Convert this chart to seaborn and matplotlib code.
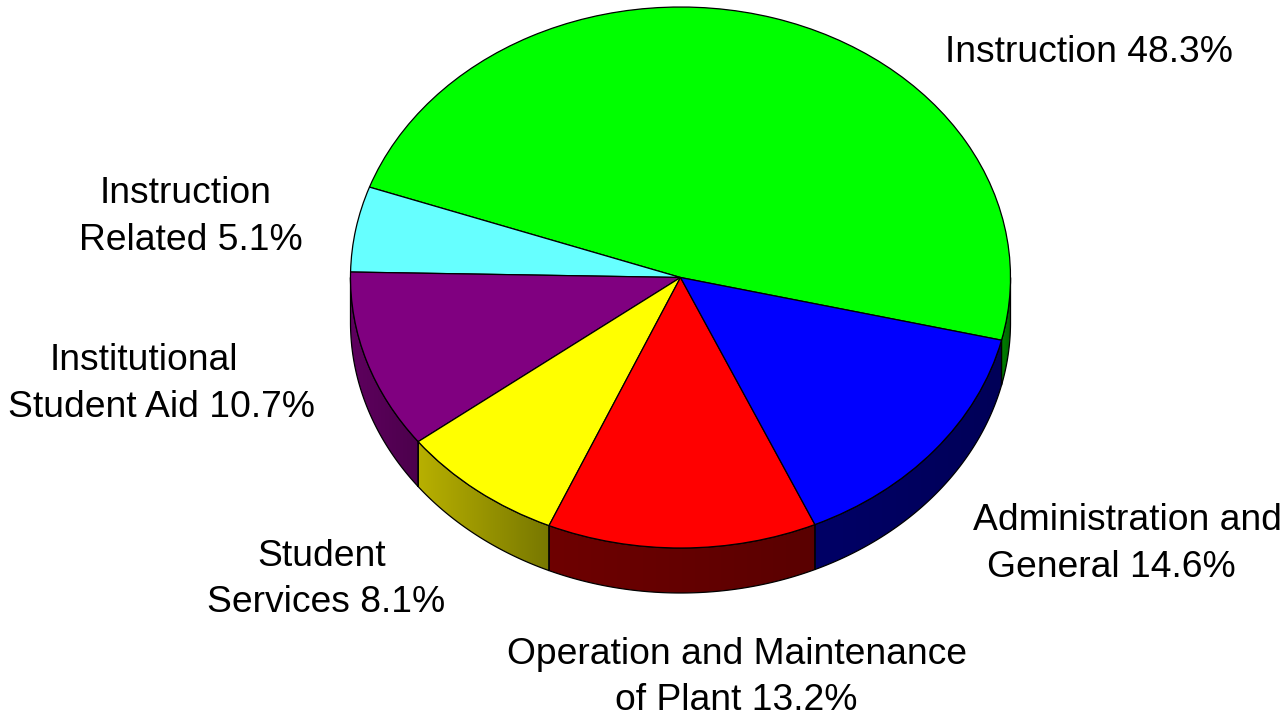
import numpy as np
import matplotlib
matplotlib.use("Agg")
import matplotlib.pyplot as plt
import matplotlib.transforms as mtransforms
from matplotlib.patches import Polygon
from matplotlib.colors import LinearSegmentedColormap
import seaborn as sns

# data
categories = ["Instruction", "Instruction Related", "Institutional Student Aid",
              "Student Services", "Operation and Maintenance of Plant",
              "Administration and General"]
shares = [48.3, 5.1, 10.7, 8.1, 13.2, 14.6]
label_lines = [["Instruction 48.3%"],
               ["Instruction", "Related 5.1%"],
               ["Institutional", "Student Aid 10.7%"],
               ["Student", "Services 8.1%"],
               ["Operation and Maintenance", "of Plant 13.2%"],
               ["Administration and", "General 14.6%"]]

# style
top_colors = ["#00ff00", "#66ffff", "#800080", "#ffff00", "#ff0000", "#0000ff"]
side_colors = [("#008000", "#006400"), ("#339999", "#2a8080"),
               ("#5e005e", "#4c004c"), ("#b8b000", "#787800"),
               ("#6e0000", "#5a0000"), ("#000066", "#000058")]
# per-line left x / cap-top y (pixels)
label_pos = [[(945, 35)],
             [(100, 176), (79, 223)],
             [(50, 343), (8, 390)],
             [(257, 539), (207, 585)],
             [(507, 637), (615, 683)],
             [(973, 503), (987, 550)]]

W, H = 1287, 712
cx, cy, rx, ry, depth = 680.5, 277.5, 330, 270.5, 45
start = -13.4

sns.set_theme(style="white")
plt.rcParams["font.family"] = ["Liberation Sans", "DejaVu Sans"]

fig = plt.figure(figsize=(W / 100, H / 100), dpi=100)
ax = fig.add_axes([0, 0, 1, 1])

ell = mtransforms.Affine2D().scale(rx, -ry).translate(cx, cy)

wedges, _ = ax.pie(shares, colors=top_colors, startangle=start, counterclock=True,
                   radius=1, center=(0, 0),
                   wedgeprops=dict(edgecolor="black", linewidth=0.9))
for w in wedges:
    w.set_transform(ell + ax.transData)
    w.set_zorder(3)

# side walls of the front half
for w, (c0, c1) in zip(wedges, side_colors):
    t1, t2 = w.theta1, w.theta2
    for k in (-360, 0, 360):
        a, b = max(t1 + k, 180), min(t2 + k, 360)
        if b <= a:
            continue
        t = np.radians(np.linspace(a, b, 120))
        top = ell.transform(np.column_stack([np.cos(t), np.sin(t)]))
        bot = top[::-1] + [0, depth]
        poly = Polygon(np.vstack([top, bot]), closed=True, facecolor="none",
                       edgecolor="black", linewidth=0.9, zorder=2)
        ax.add_patch(poly)
        cmap = LinearSegmentedColormap.from_list("side", [c0, c1])
        x0, x1 = top[:, 0].min(), top[:, 0].max()
        y0, y1 = top[:, 1].min(), bot[:, 1].max()
        im = ax.imshow(np.linspace(0, 1, 64)[None, :], cmap=cmap, aspect="auto",
                       extent=(x0, x1, y1, y0), zorder=1, interpolation="bilinear")
        im.set_clip_path(poly)

for lines, pos in zip(label_lines, label_pos):
    for txt, (x, y) in zip(lines, pos):
        ax.text(x, y, txt, ha="left", va="top", fontsize=26.8, color="black")

ax.set_xlim(0, W)
ax.set_ylim(H, 0)
ax.set_aspect("auto")
ax.axis("off")

fig.savefig("out.png", dpi=100, facecolor="white")
